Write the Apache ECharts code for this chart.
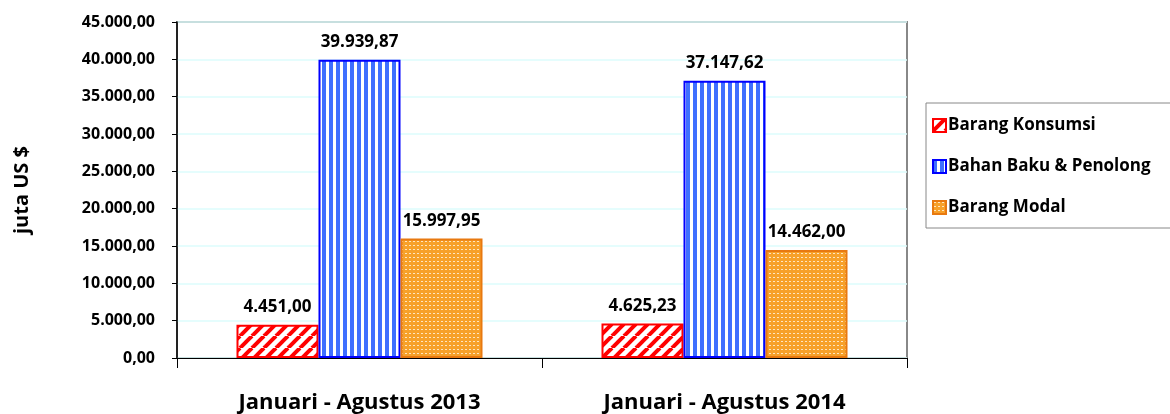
<!DOCTYPE html>
<html>
<head>
<meta charset="utf-8">
<script src="https://cdn.jsdelivr.net/npm/echarts@6/dist/echarts.min.js"></script>
<style>
  html, body { margin: 0; padding: 0; background: #fff; }
  #chart { width: 1170px; height: 414px; }
</style>
</head>
<body>
<div id="chart"></div>
<script>
const categories = ['Januari - Agustus 2013', 'Januari - Agustus 2014']
const seriesNames = ['Barang Konsumsi', 'Bahan Baku & Penolong', 'Barang Modal']
const konsumsi = [4451.00, 4625.23]
const bahanBaku = [39939.87, 37147.62]
const modal = [15997.95, 14462.00]

const FONT = '"Open Sans", "Liberation Sans", sans-serif'

// angka gaya Indonesia: 39.939,87
function fmt(v) {
  const parts = v.toFixed(2).split('.')
  return parts[0].replace(/\B(?=(\d{3})+(?!\d))/g, '.') + ',' + parts[1]
}

// pola arsiran
function stripePattern() {
  const c = document.createElement('canvas')
  c.width = 12; c.height = 12
  const g = c.getContext('2d')
  g.fillStyle = '#fff'; g.fillRect(0, 0, 12, 12)
  g.strokeStyle = '#ff0000'; g.lineWidth = 4
  for (let k = -12; k <= 24; k += 12) {
    g.beginPath(); g.moveTo(k, 12); g.lineTo(k + 12, 0); g.stroke()
  }
  return { image: c, repeat: 'repeat' }
}
function verticalPattern() {
  const c = document.createElement('canvas')
  c.width = 7; c.height = 4
  const g = c.getContext('2d')
  g.fillStyle = '#fff'; g.fillRect(0, 0, 7, 4)
  g.fillStyle = '#3f6fff'; g.fillRect(0, 0, 4, 4)
  return { image: c, repeat: 'repeat' }
}
function dotPattern() {
  const c = document.createElement('canvas')
  c.width = 4; c.height = 4
  const g = c.getContext('2d')
  g.fillStyle = '#f7a12a'; g.fillRect(0, 0, 4, 4)
  g.fillStyle = '#ffe6c0'; g.fillRect(1, 1, 2, 1)
  return { image: c, repeat: 'repeat' }
}

const labelStyle = {
  show: true,
  position: 'top',
  distance: 9,
  formatter: p => fmt(p.value),
  fontFamily: FONT,
  fontWeight: 'bold',
  fontSize: 17,
  color: '#000'
}

const chart = echarts.init(document.getElementById('chart'))
chart.setOption({
  animation: false,
  textStyle: { fontFamily: FONT },
  grid: { left: 177, right: 263, top: 22, bottom: 56, show: true, borderColor: '#888', borderWidth: 2 },
  legend: {
    left: 926, top: 103,
    orient: 'vertical',
    itemWidth: 13, itemHeight: 13,
    itemGap: 24,
    padding: [14, 40, 12, 6],
    borderColor: '#888', borderWidth: 1,
    icon: 'rect',
    textStyle: { fontFamily: FONT, fontWeight: 'bold', fontSize: 17, color: '#000', padding: [0, 0, 0, -3] },
    data: seriesNames
  },
  xAxis: {
    type: 'category',
    data: categories,
    axisLine: { lineStyle: { color: '#000', width: 1 } },
    axisTick: { show: true, length: 10, lineStyle: { color: '#000' } },
    axisLabel: { margin: 34, fontFamily: FONT, fontWeight: 'bold', fontSize: 22, color: '#000' }
  },
  yAxis: {
    type: 'value',
    min: 0, max: 45000, interval: 5000,
    name: 'juta US $',
    nameLocation: 'middle',
    nameGap: 145,
    nameTextStyle: { fontFamily: FONT, fontWeight: 'bold', fontSize: 20, color: '#000' },
    axisLine: { show: true, lineStyle: { color: '#000', width: 1.5 } },
    axisTick: { show: true, length: 5, lineStyle: { color: '#000' } },
    axisLabel: { margin: 22, formatter: v => fmt(v), fontFamily: FONT, fontWeight: 'bold', fontSize: 16, color: '#000' },
    splitLine: { lineStyle: { color: '#dcfcfc', width: 1.5 } }
  },
  series: [
    {
      name: seriesNames[0], type: 'bar', data: konsumsi,
      barGap: '0%', barCategoryGap: '32.6%',
      itemStyle: { color: stripePattern(), borderColor: '#ff0000', borderWidth: 2 },
      label: labelStyle
    },
    {
      name: seriesNames[1], type: 'bar', data: bahanBaku,
      itemStyle: { color: verticalPattern(), borderColor: '#0000ff', borderWidth: 2 },
      label: labelStyle
    },
    {
      name: seriesNames[2], type: 'bar', data: modal,
      itemStyle: { color: dotPattern(), borderColor: '#e87910', borderWidth: 2 },
      label: labelStyle
    }
  ]
})
</script>
</body>
</html>
